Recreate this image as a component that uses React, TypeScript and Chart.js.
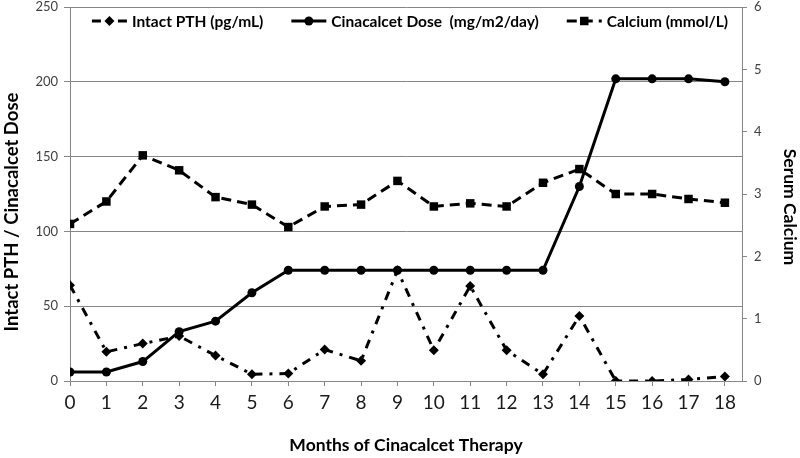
import React, { useEffect, useRef } from 'react';
import { Chart, registerables } from 'chart.js';

Chart.register(...registerables);

const months = [0, 1, 2, 3, 4, 5, 6, 7, 8, 9, 10, 11, 12, 13, 14, 15, 16, 17, 18];
const xTickLabels = ['0', '1', '2', '3', '4', '5', '6', '7', '8', '9', '10', '11', '12', '13', '14', '15', '16', '17', '18'];
const pthValues = [64, 19.5, 25, 30, 17, 4.5, 5, 21, 13.5, 74, 20.5, 63.5, 20.5, 4.5, 43.5, 0, 0, 1, 3];
const doseValues = [6, 6, 13, 33, 40, 59, 74, 74, 74, 74, 74, 74, 74, 74, 130, 202, 202, 202, 200];
const calciumValues = [2.52, 2.88, 3.62, 3.38, 2.95, 2.83, 2.47, 2.8, 2.83, 3.21, 2.8, 2.85, 2.8, 3.18, 3.4, 3.0, 3.0, 2.92, 2.86];
const leftTicks = [0, 50, 100, 150, 200, 250];
const rightTicks = [0, 1, 2, 3, 4, 5, 6];

const seriesLabels = ['Intact PTH (pg/mL)', 'Cinacalcet Dose  (mg/m2/day)', 'Calcium (mmol/L)'];
const xTitle = 'Months of Cinacalcet Therapy';
const leftTitle = 'Intact PTH / Cinacalcet Dose';
const rightTitle = 'Serum Calcium';

const FONT = 'Lato, "Open Sans", sans-serif';
const GRID = '#868686';

function drawMarker(ctx: CanvasRenderingContext2D, style: string, x: number, y: number, r: number) {
  ctx.beginPath();
  if (style === 'circle') {
    ctx.arc(x, y, r, 0, Math.PI * 2);
  } else if (style === 'rectRot') {
    ctx.moveTo(x, y - r);
    ctx.lineTo(x + r, y);
    ctx.lineTo(x, y + r);
    ctx.lineTo(x - r, y);
    ctx.closePath();
  } else {
    const s = r * Math.SQRT1_2;
    ctx.rect(x - s, y - s, 2 * s, 2 * s);
  }
  ctx.fill();
}

const insideLegend = {
  id: 'insideLegend',
  afterDraw(chart: any) {
    const ctx: CanvasRenderingContext2D = chart.ctx;
    const area = chart.chartArea;
    const sets = chart.data.datasets;
    ctx.save();
    ctx.font = `bold 15.5px ${FONT}`;
    ctx.textBaseline = 'middle';
    const sampleW = 35;
    const gapText = 5;
    const gapItem = 28;
    const widths = sets.map((d: any) => sampleW + gapText + ctx.measureText(d.label).width);
    const total = widths.reduce((a: number, b: number) => a + b, 0) + gapItem * (sets.length - 1);
    let x = (area.left + area.right) / 2 - total / 2 + 4;
    const y = 21;
    sets.forEach((d: any, i: number) => {
      ctx.beginPath();
      ctx.setLineDash(d.borderDash || []);
      ctx.lineWidth = d.borderWidth;
      ctx.strokeStyle = d.borderColor;
      ctx.moveTo(x, y);
      ctx.lineTo(x + sampleW, y);
      ctx.stroke();
      ctx.setLineDash([]);
      ctx.fillStyle = d.pointBackgroundColor;
      drawMarker(ctx, d.pointStyle, x + sampleW / 2, y, d.pointRadius);
      ctx.fillStyle = '#000';
      ctx.fillText(d.label, x + sampleW + gapText, y + 1);
      x += widths[i] + gapItem;
    });
    ctx.restore();
  },
};

const verticalTitles = {
  id: 'verticalTitles',
  afterDraw(chart: any) {
    const ctx: CanvasRenderingContext2D = chart.ctx;
    ctx.save();
    ctx.fillStyle = '#000';
    ctx.textAlign = 'center';
    ctx.textBaseline = 'middle';
    ctx.font = `bold 18.5px ${FONT}`;
    ctx.translate(12, 212);
    ctx.rotate(-Math.PI / 2);
    ctx.fillText(leftTitle, 0, 0);
    ctx.restore();
    ctx.save();
    ctx.fillStyle = '#000';
    ctx.textAlign = 'center';
    ctx.textBaseline = 'middle';
    ctx.font = `bold 17.5px ${FONT}`;
    ctx.translate(790, 207);
    ctx.rotate(Math.PI / 2);
    ctx.fillText(rightTitle, 0, 0);
    ctx.restore();
  },
};

export default function App() {
  const canvasRef = useRef<HTMLCanvasElement | null>(null);

  useEffect(() => {
    document.body.style.margin = '0';
    const canvas = canvasRef.current;
    if (!canvas) return;
    const toPts = (vals: number[]) => months.map((m, i) => ({ x: m, y: vals[i] }));
    const chart = new Chart(canvas, {
      type: 'line',
      data: {
        datasets: [
          {
            label: seriesLabels[0],
            data: toPts(pthValues),
            yAxisID: 'y',
            borderColor: '#000',
            backgroundColor: '#000',
            pointBackgroundColor: '#000',
            pointBorderColor: '#000',
            borderWidth: 3,
            borderDash: [9, 7, 3, 7],
            pointStyle: 'rectRot',
            pointRadius: 5,
            pointBorderWidth: 0,
            tension: 0,
          },
          {
            label: seriesLabels[1],
            data: toPts(doseValues),
            yAxisID: 'y',
            borderColor: '#000',
            backgroundColor: '#000',
            pointBackgroundColor: '#000',
            pointBorderColor: '#000',
            borderWidth: 3,
            borderDash: [],
            pointStyle: 'circle',
            pointRadius: 4.5,
            pointBorderWidth: 0,
            tension: 0,
          },
          {
            label: seriesLabels[2],
            data: toPts(calciumValues),
            yAxisID: 'y2',
            borderColor: '#000',
            backgroundColor: '#000',
            pointBackgroundColor: '#000',
            pointBorderColor: '#000',
            borderWidth: 3,
            borderDash: [10, 6],
            pointStyle: 'rect',
            pointRadius: 6,
            pointBorderWidth: 0,
            tension: 0,
          },
        ] as any,
      },
      options: {
        animation: false,
        responsive: false,
        maintainAspectRatio: false,
        layout: { padding: { top: 0, left: 0, right: 0, bottom: 0 } },
        plugins: {
          legend: { display: false },
          tooltip: { enabled: false },
        },
        scales: {
          x: {
            type: 'linear',
            min: 0,
            max: 18.47,
            afterBuildTicks: (scale: any) => {
              scale.ticks = months.map((v) => ({ value: v }));
            },
            afterFit: (scale: any) => {
              scale.height = 77;
              scale.paddingLeft = 0;
              scale.paddingRight = 0;
            },
            ticks: {
              autoSkip: false,
              maxRotation: 0,
              padding: 5,
              color: '#1a1a1a',
              font: { family: FONT, size: 19 },
              callback: (_v: any, i: number) => xTickLabels[i],
            },
            grid: { drawOnChartArea: false, drawTicks: true, tickLength: 5, color: GRID },
            border: { display: true, color: GRID, width: 1 },
            title: {
              display: true,
              text: xTitle,
              color: '#000',
              font: { family: FONT, size: 17.5, weight: 'bold' },
              padding: { top: 0, bottom: 2 },
            },
          },
          y: {
            type: 'linear',
            position: 'left',
            min: 0,
            max: 250,
            afterBuildTicks: (scale: any) => {
              scale.ticks = leftTicks.map((v) => ({ value: v }));
            },
            afterFit: (scale: any) => {
              scale.width = 70;
              scale.paddingTop = 7;
              scale.paddingBottom = 0;
            },
            ticks: {
              padding: 6,
              color: '#404040',
              font: { family: FONT, size: 13 },
            },
            grid: { color: GRID, tickLength: 6, lineWidth: 1 },
            border: { display: true, color: GRID, width: 1 },
            title: { display: false },
          },
          y2: {
            type: 'linear',
            position: 'right',
            min: 0,
            max: 6,
            afterBuildTicks: (scale: any) => {
              scale.ticks = rightTicks.map((v) => ({ value: v }));
            },
            afterFit: (scale: any) => {
              scale.width = 58;
              scale.paddingTop = 7;
              scale.paddingBottom = 0;
            },
            ticks: {
              padding: 7,
              color: '#404040',
              font: { family: FONT, size: 13 },
            },
            grid: { drawOnChartArea: false, drawTicks: true, tickLength: 5, color: GRID },
            border: { display: true, color: GRID, width: 1 },
            title: { display: false },
          },
        },
      } as any,
      plugins: [insideLegend, verticalTitles],
    });
    return () => chart.destroy();
  }, []);

  return (
    <div style={{ width: 800, height: 458 }}>
      <canvas ref={canvasRef} width={800} height={458} style={{ display: 'block' }} />
    </div>
  );
}
